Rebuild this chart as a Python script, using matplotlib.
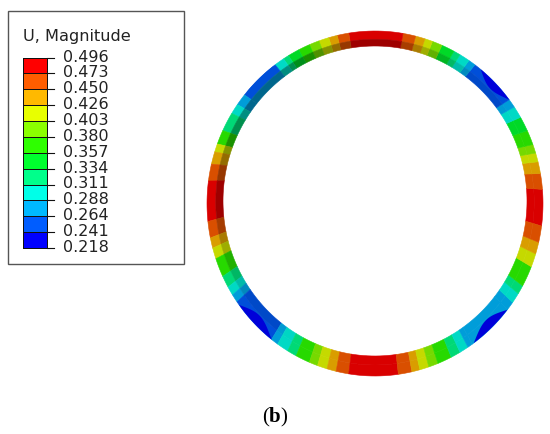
import numpy as np
import matplotlib
matplotlib.use("Agg")
import matplotlib.pyplot as plt
from matplotlib.colors import ListedColormap, to_rgb
from matplotlib.patches import Rectangle

plt.rcParams["mathtext.fontset"] = "custom"
plt.rcParams["mathtext.bf"] = "Liberation Serif:bold"
plt.rcParams["mathtext.rm"] = "Liberation Serif"

titulo = "U, Magnitude"
legenda_fig = r"($\mathbf{b}$)"
valores = ["0.496", "0.473", "0.450", "0.426", "0.403", "0.380", "0.357",
           "0.334", "0.311", "0.288", "0.264", "0.241", "0.218"]
# do azul (nivel 0) ao vermelho (nivel 11)
cores = ["#0000ff", "#005dff", "#00b9ff", "#00ffe8", "#00ff8b", "#00ff2e",
         "#2eff00", "#8bff00", "#e8ff00", "#ffb900", "#ff5d00", "#ff0000"]

# angulos dos limites dos setores do anel, em graus, no sentido anti-horario
limites = [-7.5, 4.7, 10, 14, 17, 20, 25, 30, 34, 37, 53.5, 56, 59.6, 62, 66.5,
           70, 72.7, 76, 80.4, 99, 103, 106, 109.5, 113, 117, 121, 123, 126.5,
           141, 145, 148.5, 155, 159.8, 162.6, 166.8, 172.5, 186, 191.5, 195,
           198.7, 205, 209, 212, 214.8, 232, 234.6, 238.7, 242, 247,
           250, 253.4, 256.6, 261, 278, 282.7, 285.5, 288.7, 292, 297, 300.4, 303.6,
           305.4, 322, 325, 328.5, 331.5, 338.5, 343, 347, 352.5]
nivel_externo = [11, 10, 9, 8, 7, 6, 5, 3, 2, 1, 2, 3, 4, 5, 7,
                 8, 9, 10, 11, 10, 9, 8, 7, 6, 5, 4, 3,
                 1, 2, 3, 4, 6, 8, 9, 10, 11, 10, 9,
                 8, 6, 4, 3, 2, 1, 2, 3, 4, 6,
                 7, 8, 9, 10, 11, 10, 9, 8, 7, 6, 4, 3,
                 2, 2, 2, 3, 4, 6, 8, 9, 10]
nivel_interno = [11, 10, 9, 8, 7, 6, 5, 3, 2, 1, 2, 3, 4, 5, 7,
                 8, 9, 10, 11, 10, 9, 8, 7, 6, 5, 4, 3,
                 2, 2, 3, 4, 6, 8, 9, 10, 11, 10, 9,
                 8, 6, 4, 3, 2, 1, 2, 3, 4, 6,
                 7, 8, 9, 10, 11, 10, 9, 8, 7, 6, 4, 3,
                 2, 2, 2, 3, 4, 6, 8, 9, 10]

# manchas azuis junto a borda externa
mancha_inicio = [37, 127, 216, 306]
mancha_fim = [51, 140, 232, 322]
mancha_nivel = [0, 1, 0, 0]


def ponto(ang, frac):
    # frac 0 = borda externa, frac 1 = borda interna
    rx = 168 + (152 - 168) * frac
    ry = 172.5 + (155 - 172.5) * frac
    cy = 204.5 + (202 - 204.5) * frac
    return 375 + rx * np.cos(ang), cy - ry * np.sin(ang)


def setor(ax, a0, a1, f0, f1, cor, luz):
    ang = np.radians(np.linspace(a0, a1, 12))
    x0, y0 = ponto(ang, f0)
    x1, y1 = ponto(ang[::-1], f1)
    rgb = np.array(to_rgb(cor)) * luz
    ax.fill(np.r_[x0, x1], np.r_[y0, y1], color=rgb, lw=0.4)


fig = plt.figure(figsize=(5.5, 4.35), dpi=100)
ax = fig.add_axes([0, 0, 1, 1])
ax.set_xlim(0, 550)
ax.set_ylim(435, 0)
ax.axis("off")

for i in range(len(nivel_externo)):
    a0, a1 = limites[i], limites[i + 1]
    meio = np.radians((a0 + a1) / 2)
    # a parede interna fica mais escura do lado de cima e da esquerda
    sombra = np.clip(0.2 + 0.8 * np.cos(meio - np.radians(135)), 0, 1)
    setor(ax, a0, a1, 0, 0.55, cores[nivel_externo[i]], 0.85)
    setor(ax, a0, a1, 0.55, 1, cores[nivel_interno[i]], 0.85 - 0.3 * sombra)

for ini, fim, nivel in zip(mancha_inicio, mancha_fim, mancha_nivel):
    t = np.linspace(0, 1, 30)
    ang = np.radians(ini + (fim - ini) * t)
    xe, ye = ponto(ang, 0)
    xi, yi = ponto(ang, 0.5 * np.sin(np.pi * t))
    rgb = np.array(to_rgb(cores[nivel])) * 0.85
    ax.fill(np.r_[xe, xi[::-1]], np.r_[ye, yi[::-1]], color=rgb, lw=0)

# legenda
ax.add_patch(Rectangle((7.5, 11.5), 176, 253.5, fc="white", ec="#555555", lw=1))
ax.text(23, 37, titulo, fontsize=11.6, family="DejaVu Sans", va="center", color="#222222")

n = len(cores)
ys = np.linspace(249, 58.5, n + 1)
ax.pcolormesh([23, 47], ys, np.arange(n).reshape(-1, 1), shading="flat",
              cmap=ListedColormap(cores), edgecolors="#111111", linewidth=0.7)
for y, valor in zip(ys[::-1], valores):
    ax.plot([47, 54], [y, y], color="#111111", lw=0.8)
    ax.text(63, y - 1.5, valor, fontsize=11.5, family="DejaVu Sans", va="center", color="#222222")

# legenda da figura
ax.text(275.5, 417, legenda_fig, fontsize=15, family="Liberation Serif", ha="center", va="center")

fig.savefig("out.png", dpi=100)
